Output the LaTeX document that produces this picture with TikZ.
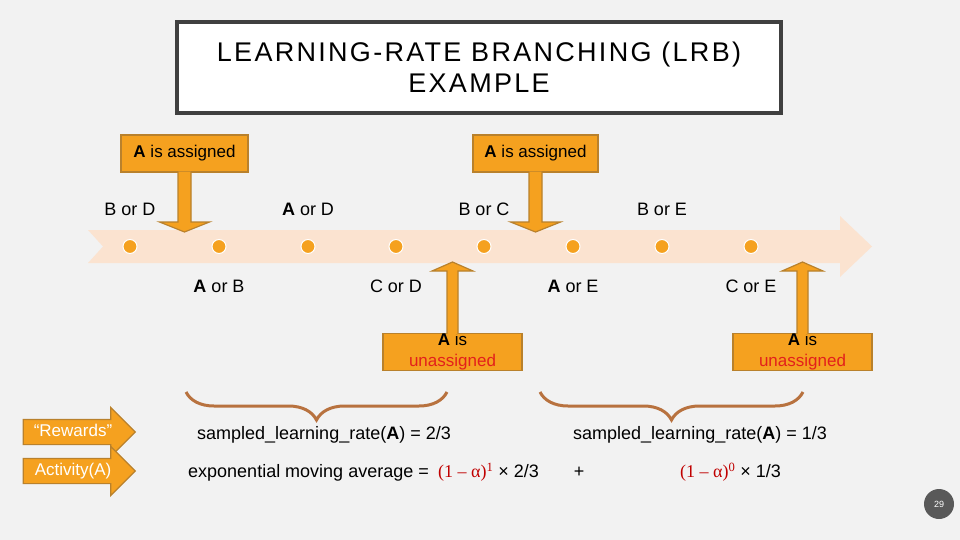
\documentclass[tikz,border=0pt]{standalone}
\usepackage{fontspec}
\setmainfont{Liberation Sans}
\newfontfamily\serifalpha{Liberation Serif}
\newfontfamily\titlefont[LetterSpace=8.5]{Liberation Sans}
\usepackage{tikz}
\usetikzlibrary{arrows.meta,positioning,calc,shapes.arrows,
  decorations.pathreplacing}
\definecolor{LrbOrange}{HTML}{F5A11F}
\definecolor{LrbEdge}  {HTML}{B9812C}
\definecolor{LrbPeach} {HTML}{FBE3D0}
\definecolor{LrbBrace} {HTML}{B8723F}
\definecolor{LrbRed}   {HTML}{E3201B}
\definecolor{LrbDark}  {HTML}{C00000}
\definecolor{LrbFrame} {HTML}{404040}
\definecolor{LrbPage}  {HTML}{F2F2F2}
\definecolor{LrbBadge} {HTML}{595959}
\newcommand{\actA}{\textbf{A}}
\newcommand{\decayTerm}[1]{{\color{LrbDark}\serifalpha (1 – α)\textsuperscript{#1}}}

\begin{document}
\begin{tikzpicture}[x=1pt,y=-1pt,
  callbox/.style={draw=LrbEdge,fill=LrbOrange,line width=1.2pt,
    align=center,inner sep=0pt,font=\fontsize{17}{21}\selectfont},
  callarrow/.style={draw=LrbEdge,fill=LrbOrange,line width=1.2pt},
  tldot/.style={circle,fill=LrbOrange,draw=white,line width=1pt,
    minimum size=14pt,inner sep=0pt},
  choice/.style={inner sep=0pt,text height=13pt,text depth=0pt,
    font=\fontsize{18}{21}\selectfont},
  txt/.style={inner sep=0pt,text height=13pt,text depth=0pt,
    font=\fontsize{18}{21}\selectfont},
  sidearrow/.style={single arrow,draw=LrbEdge,fill=LrbOrange,text=white,
    line width=1.2pt,minimum height=112pt,single arrow head extend=12pt,
    text height=11pt,text depth=3pt,inner xsep=3pt,inner ysep=5pt,
    font=\fontsize{17}{20}\selectfont},
  curly/.style={draw=LrbBrace,line width=3pt,decorate,
    decoration={brace,amplitude=28pt,aspect=0.5}}]
  \useasboundingbox (0,0) rectangle (960,540);
  \fill[LrbPage] (0,0) rectangle (960,540);
  \node[draw=LrbFrame,fill=white,line width=3.5pt,minimum width=604pt,
    minimum height=91pt,align=center,
    font=\titlefont\fontsize{27}{31}\selectfont]
    (title) at (479,67.5) {LEARNING-RATE BRANCHING (LRB)\\EXAMPLE};
  \fill[LrbPeach] (88,230) -- (840,230) -- (840,216) -- (872,246.5)
    -- (840,277) -- (840,263) -- (88,263) -- (103,246.5) -- cycle;
  \foreach \i/\x in {1/130,2/219,3/308,4/396,5/484,6/573,7/662,8/751}
    \node[tldot] (d\i) at (\x,246.5) {};
  \node[choice,above=23pt of d1] (c1) {B or D};
  \node[choice,above=23pt of d3] (c3) {\actA{} or D};
  \node[choice,above=23pt of d5] (c5) {B or C};
  \node[choice,above=23pt of d7] (c7) {B or E};
  \node[choice,below=25pt of d2] (c2) {\actA{} or B};
  \node[choice,below=25pt of d4] (c4) {C or D};
  \node[choice,below=25pt of d6] (c6) {\actA{} or E};
  \node[choice,below=25pt of d8] (c8) {C or E};
  \node[callbox,minimum width=127pt,minimum height=37pt]
    (as1) at (184.5,153.5) {\actA{} is assigned};
  \node[callbox,minimum width=125pt,minimum height=37pt]
    (as2) at (535.5,153.5) {\actA{} is assigned};
  \node[callbox,minimum width=139pt,minimum height=37pt]
    (un1) at (452.5,352) {\actA{} is\\{\color{LrbRed}unassigned}};
  \node[callbox,minimum width=139pt,minimum height=37pt]
    (un2) at (802.5,352) {\actA{} is\\{\color{LrbRed}unassigned}};
  \coordinate (t1) at (184.5,232);
  \coordinate (t2) at (535.5,232);
  \coordinate (t3) at (452.5,262);
  \coordinate (t4) at (802.5,262);
  \foreach \b/\t in {as1/t1,as2/t2}
    \filldraw[callarrow] ($(\b.south)+(-6.5,-1)$) -- ($(\t)+(-6.5,-10)$)
      -- ($(\t)+(-25,-10)$) -- (\t) -- ($(\t)+(25,-10)$)
      -- ($(\t)+(6.5,-10)$) -- ($(\b.south)+(6.5,-1)$);
  \foreach \b/\t in {un1/t3,un2/t4}
    \filldraw[callarrow] ($(\b.north)+(-5.5,1)$) -- ($(\t)+(-5.5,9)$)
      -- ($(\t)+(-20.5,9)$) -- (\t) -- ($(\t)+(20.5,9)$)
      -- ($(\t)+(5.5,9)$) -- ($(\b.north)+(5.5,1)$);
  \draw[curly] (447,392) -- (186,392);
  \draw[curly] (803,392) -- (540,392);
  \node[sidearrow] (rew) at (73,432) {“Rewards”};
  \node[sidearrow] (act) at (73,471) {Activity(A)};
  \node[txt,anchor=west] (slr1) at (197,433)
    {sampled\_learning\_rate(\actA) = 2/3};
  \node[txt,anchor=west] (slr2) at (573,433)
    {sampled\_learning\_rate(\actA) = 1/3};
  \node[txt,anchor=west] (ema) at (188,471) {exponential moving average = };
  \node[txt,anchor=west] (w1) at (438,471) {\decayTerm{1} × 2/3};
  \node[txt] (plus) at (579,471) {+};
  \node[txt,anchor=west] (w0) at (680,471) {\decayTerm{0} × 1/3};
  \node[circle,fill=LrbBadge,minimum size=30pt,inner sep=0pt,text=white,
    font=\fontsize{9}{10}\selectfont] (pg) at (939,504) {29};
\end{tikzpicture}
\end{document}
